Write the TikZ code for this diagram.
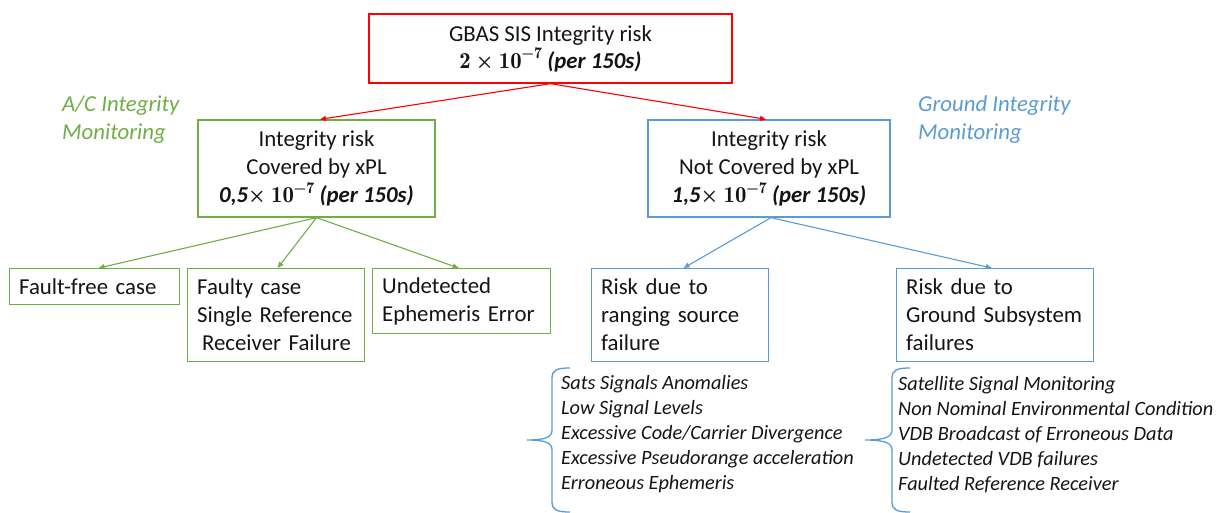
\documentclass[tikz,border=0pt]{standalone}
\usepackage[no-math]{fontspec}
\setmainfont{Carlito}
\usetikzlibrary{arrows.meta}
\definecolor{cred}{RGB}{255,0,0}
\definecolor{cgreen}{RGB}{112,173,71}
\definecolor{cblue}{RGB}{91,155,213}
\definecolor{ctext}{RGB}{20,20,20}
\tikzset{
  bigfont/.style={font=\fontsize{22.8}{28}\selectfont},
  listfont/.style={font=\fontsize{20.3}{25}\selectfont\itshape},
  box/.style={draw, line width=1.3pt, bigfont, text=ctext, inner xsep=9.5pt, inner ysep=0pt},
  centerbox/.style={box, align=center},
  leftbox/.style={box, align=left, anchor=north west},
  conn/.style={line width=1.1pt, -{Triangle[length=6pt,width=5pt]}},
  brace/.style={draw=cblue, line width=1.3pt},
  side/.style={bigfont, font=\fontsize{22.8}{27.5}\selectfont\itshape, align=left, inner sep=0pt, anchor=west},
  lst/.style={listfont, text=ctext, align=left, inner sep=0pt, anchor=west}
}
\newcommand{\perx}{\textbf{\textit{(per 150s)}}}
\newcommand{\tenexp}{{\fontfamily{lmr}\selectfont\bfseries 10\raisebox{0.42em}{\fontsize{16}{16}\selectfont −7}}}
\newcommand{\timesx}{{\fontfamily{lmr}\selectfont\bfseries ×}}
\begin{document}
\begin{tikzpicture}[x=1pt,y=-1pt]
\useasboundingbox (0,0) rectangle (1226,512);
% top
\node[centerbox, draw=cred, minimum width=363pt, minimum height=69pt] (top) at (550.5,48.5)
  {GBAS SIS Integrity risk\\[-1pt] {\fontfamily{lmr}\selectfont\bfseries 2} \timesx{} \tenexp{} \perx};
% second level
\node[centerbox, draw=cgreen, minimum width=237pt, minimum height=97pt] (gr) at (316.5,168.5)
  {Integrity risk\\Covered by xPL\\ \textbf{\textit{0,5}}\timesx{} \tenexp{} \perx};
\node[centerbox, draw=cblue, minimum width=242pt, minimum height=97pt] (bl) at (769,168.5)
  {Integrity risk\\Not Covered by xPL\\ \textbf{\textit{1,5}}\timesx{} \tenexp{} \perx};
% side labels
\node[side, text=cgreen] (acl) at (62,119.5) {A/C Integrity\\Monitoring};
\node[side, text=cblue] (gil) at (918,119.5) {Ground Integrity\\Monitoring};
% third level
\node[leftbox, draw=cgreen, text width=151pt, minimum height=36pt] (ff) at (9,268) {Fault-free case};
\node[leftbox, draw=cgreen, text width=158pt, minimum height=93pt] (fc) at (187,268)
  {Faulty case\\Single Reference\\\hspace*{5pt}Receiver Failure};
\node[leftbox, draw=cgreen, text width=159pt, minimum height=65pt] (ud) at (372,268)
  {Undetected\\Ephemeris Error};
\node[leftbox, draw=cblue, text width=158pt, minimum height=93pt] (rs) at (591,268)
  {Risk due to\\ranging source\\failure};
\node[leftbox, draw=cblue, text width=178pt, minimum height=93pt] (gs) at (896,268)
  {Risk due to\\Ground Subsystem\\failures};
% connectors
\draw[conn, cred] (top.south) -- ([xshift=3.5pt]gr.north);
\draw[conn, cred] (top.south) -- ([xshift=-3pt]bl.north);
\draw[conn, cgreen] (gr.south) -- ([xshift=4pt]ff.north);
\draw[conn, cgreen] (gr.south) -- ([xshift=1.5pt]fc.north);
\draw[conn, cgreen] (gr.south) -- ([xshift=-3pt]ud.north);
\draw[conn, cblue] ([xshift=2pt]bl.south) -- ([xshift=3.5pt]rs.north);
\draw[conn, cblue] ([xshift=2pt]bl.south) -- ([xshift=-3.5pt]gs.north);
% braces
\draw[brace] (570,368) .. controls (557,368) and (552,370) .. (552,378) -- (552,430)
  .. controls (552,437) and (546,440) .. (527,440)
  .. controls (546,440) and (552,443) .. (552,450) -- (552,502)
  .. controls (552,510) and (557,512) .. (570,512);
\draw[brace] (910,368) .. controls (897,368) and (892,370) .. (892,378) -- (892,430)
  .. controls (892,437) and (885,440) .. (865,440)
  .. controls (885,440) and (892,443) .. (892,450) -- (892,502)
  .. controls (892,510) and (897,512) .. (910,512);
% lists
\node[lst] (l1) at (561,434.5) {Sats Signals Anomalies\\Low Signal Levels\\Excessive Code/Carrier Divergence\\Excessive Pseudorange acceleration\\Erroneous Ephemeris};
\node[lst] (l2) at (898,434.5) {Satellite Signal Monitoring\\Non Nominal Environmental Condition\\VDB Broadcast of Erroneous Data\\Undetected VDB failures\\Faulted Reference Receiver};
\end{tikzpicture}
\end{document}
